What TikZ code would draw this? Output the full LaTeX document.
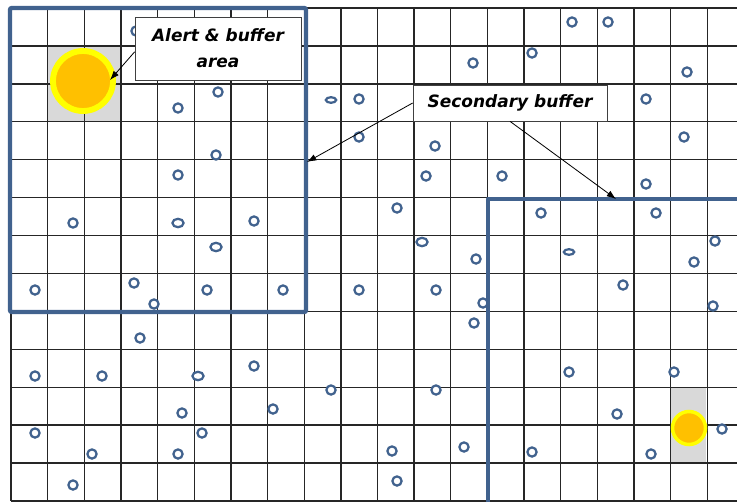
\documentclass[tikz,border=0pt]{standalone}
\usepackage{fontspec}
\usetikzlibrary{arrows.meta}
\newfontfamily\callfont{DejaVu Sans}
\definecolor{Steel}{HTML}{41628E}
\definecolor{Sun}{HTML}{FFC000}
\definecolor{Rim}{HTML}{FFFF00}
\definecolor{Shade}{HTML}{D9D9D9}

\begin{document}
\begin{tikzpicture}[x=0.03cm,y=-0.03cm,>={Latex[length=2.8mm,width=2mm]},
  gridline/.style={black!85,line width=1.15pt},
  sensor/.style={Steel,fill=white,line width=1.9pt},
  border/.style={Steel,line width=3.6pt,line join=round},
  callout/.style={draw=black!75,fill=white,line width=0.6pt,inner sep=0pt,align=center,
    font=\callfont\bfseries\itshape\fontsize{14.5}{22}\selectfont}]
\useasboundingbox(0,0)rectangle(737,502);
\fill[Shade](47.65,45.92)rectangle(120.95,121.76);
\fill[Shade](670.7,387.2)rectangle(706.35,463.04);
\foreach \i in {0,...,19}\draw[gridline]({11+36.65*\i},8)--({11+36.65*\i},501);
\foreach \j in {0,...,13}\draw[gridline](11,{8+37.92*\j})--(737,{8+37.92*\j});
\foreach \p in {(136,31),(178,108),(218,92),(216,155),(178,175),(73,223),(254,221),(35,290),
  (134,283),(154,304),(207,290),(283,290),(359,290),(140,338),(35,376),(102,376),(254,366),
  (331,390),(182,413),(273,409),(35,433),(202,433),(92,454),(178,454),(73,485),
  (397,208),(541,213),(656,213),(476,259),(715,241),(694,262),(436,290),(483,303),(623,285),
  (713,306),(474,323),(569,372),(674,372),(436,390),(617,414),(722,429),(392,451),(464,447),
  (532,452),(651,454),(397,481),(572,22),(608,22),(473,63),(532,53),(687,72),(359,99),
  (646,99),(359,137),(435,146),(684,137),(426,176),(502,176),(646,184)}
  \filldraw[sensor]\p circle(4.6);
\foreach \p in {(178,223),(216,247),(422,242),(198,376)}
  \filldraw[sensor]\p ellipse[x radius=5.6,y radius=4.2];
\foreach \p in {(331,100),(569,252)}
  \filldraw[sensor]\p ellipse[x radius=5.2,y radius=2.8];
\filldraw[fill=Sun,draw=Rim,line width=5pt](83,81)circle(30);
\filldraw[fill=Sun,draw=Rim,line width=3pt](689,428)circle(16.5);
\draw[border,rounded corners=1pt](10,8)rectangle(306,312);
\draw[border](488,502)--(488,199)--(740,199);
\node[callout,minimum width=4.98cm,minimum height=1.89cm](alert)at(218,48.5){Alert \& buffer\\area};
\node[callout,minimum width=5.82cm,minimum height=1.08cm](second)at(510,103){Secondary buffer};
\coordinate(tipA)at(110,80);
\coordinate(tipB)at(307,162);
\coordinate(tipC)at(616,199);
\draw[->,line width=0.7pt]([yshift=-1mm]alert.west)--(tipA);
\draw[->,line width=0.7pt](second.west)--(tipB);
\draw[->,line width=0.7pt](second.south)--(tipC);
\end{tikzpicture}
\end{document}
